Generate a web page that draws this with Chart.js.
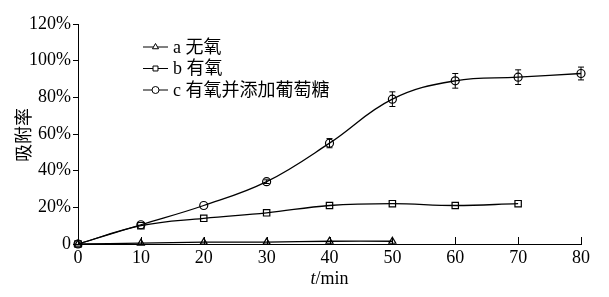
<!DOCTYPE html>
<html>
<head>
<meta charset="utf-8">
<script src="https://cdn.jsdelivr.net/npm/chart.js@4"></script>
<style>
  html, body { margin: 0; padding: 0; background: #fff; }
  #wrap { width: 609px; height: 297px; }
</style>
</head>
<body>
<div id="wrap"><canvas id="c1" width="609" height="297"></canvas></div>
<script>
const times = [0, 10, 20, 30, 40, 50, 60, 70, 80];
const seriesA = [0, 0.5, 1, 1, 1.5, 1.5];            // a 无氧
const seriesB = [0, 10, 14, 17, 21, 22, 21, 22];      // b 有氧
const seriesC = [0, 10.5, 21, 34, 55, 79, 89, 91, 93]; // c 有氧并添加葡萄糖
const errC = [0, 0, 0, 1, 2.5, 4, 4, 4, 3.5];
const labels = ['a 无氧', 'b 有氧', 'c 有氧并添加葡萄糖'];
const yTickLabels = ['0', '20%', '40%', '60%', '80%', '100%', '120%'];

const serif = '"Liberation Serif", "Noto Sans CJK SC", serif';
const toXY = arr => arr.map((v, i) => ({ x: times[i], y: v }));

const errorBars = {
  id: 'errorBars',
  afterDatasetsDraw(chart) {
    const { ctx, scales: { x, y } } = chart;
    ctx.save();
    ctx.strokeStyle = '#000';
    ctx.lineWidth = 1;
    errC.forEach((e, i) => {
      if (!e) return;
      const px = x.getPixelForValue(times[i]);
      const top = y.getPixelForValue(seriesC[i] + e);
      const bot = y.getPixelForValue(seriesC[i] - e);
      ctx.beginPath();
      ctx.moveTo(px, top); ctx.lineTo(px, bot);
      ctx.moveTo(px - 3, top); ctx.lineTo(px + 3, top);
      ctx.moveTo(px - 3, bot); ctx.lineTo(px + 3, bot);
      ctx.stroke();
    });
    ctx.restore();
  }
};

const extras = {
  id: 'extras',
  afterDraw(chart) {
    const { ctx, chartArea, scales: { x } } = chart;
    ctx.save();
    ctx.strokeStyle = '#000';
    ctx.fillStyle = '#000';
    ctx.lineWidth = 1;
    // inward x ticks
    times.forEach(t => {
      const px = Math.round(x.getPixelForValue(t)) + 0.5;
      ctx.beginPath();
      ctx.moveTo(px, chartArea.bottom);
      ctx.lineTo(px, chartArea.bottom - 7);
      ctx.stroke();
    });
    // x title: t/min with italic t
    ctx.font = 'italic 18px ' + serif;
    ctx.textBaseline = 'alphabetic';
    const w1 = ctx.measureText('t').width;
    ctx.font = '18px ' + serif;
    const w2 = ctx.measureText('/min').width;
    const cx = (chartArea.left + chartArea.right) / 2;
    const sx = cx - (w1 + w2) / 2;
    ctx.font = 'italic 18px ' + serif;
    ctx.fillText('t', sx, 284);
    ctx.font = '18px ' + serif;
    ctx.fillText('/min', sx + w1, 284);
    // y title
    ctx.save();
    ctx.translate(25, 135);
    ctx.rotate(-Math.PI / 2);
    ctx.textAlign = 'center';
    ctx.textBaseline = 'middle';
    ctx.font = '18px ' + serif;
    ctx.fillText('吸附率', 0, 0);
    ctx.restore();
    // legend
    const styles = ['triangle', 'rect', 'circle'];
    labels.forEach((lab, i) => {
      const ly = 47 + i * 21.5;
      ctx.strokeStyle = '#000';
      ctx.beginPath();
      ctx.moveTo(143, ly); ctx.lineTo(168, ly);
      ctx.stroke();
      ctx.fillStyle = '#fff';
      Chart.helpers.drawPoint(ctx, { pointStyle: styles[i], radius: 3.5, borderWidth: 1 }, 155.5, ly);
      ctx.fillStyle = '#000';
      ctx.font = '18px ' + serif;
      ctx.textBaseline = 'middle';
      ctx.textAlign = 'left';
      ctx.fillText(lab, 173, ly + 1);
    });
    ctx.restore();
  }
};

const common = {
  borderColor: '#000',
  borderWidth: 1.3,
  pointBorderColor: '#000',
  pointBackgroundColor: 'rgba(0,0,0,0)',
  pointRadius: 4,
  pointBorderWidth: 1.2,
  tension: 0.4,
  clip: false
};

new Chart(document.getElementById('c1'), {
  type: 'line',
  data: {
    datasets: [
      { ...common, label: labels[0], data: toXY(seriesA), pointStyle: 'triangle' },
      { ...common, label: labels[1], data: toXY(seriesB), pointStyle: 'rect', pointRadius: 4.5 },
      { ...common, label: labels[2], data: toXY(seriesC), pointStyle: 'circle' }
    ]
  },
  options: {
    responsive: false,
    animation: false,
    layout: { padding: { top: 24, right: 28, left: 0, bottom: 0 } },
    plugins: { legend: { display: false }, tooltip: { enabled: false } },
    scales: {
      x: {
        type: 'linear',
        min: 0, max: 80,
        afterFit: s => { s.height = 53; },
        ticks: { stepSize: 10, color: '#000', font: { family: serif, size: 18 }, padding: -5 },
        grid: { display: false },
        border: { color: '#000', width: 1 }
      },
      y: {
        min: 0, max: 120,
        afterFit: s => { s.width = 78; },
        ticks: {
          stepSize: 20, color: '#000', font: { family: serif, size: 18 }, padding: 2,
          callback: (v) => yTickLabels[Math.round(v / 20)]
        },
        grid: { drawOnChartArea: false, drawTicks: true, tickLength: 5, color: '#000' },
        border: { color: '#000', width: 1 }
      }
    }
  },
  plugins: [errorBars, extras]
});
</script>
</body>
</html>
